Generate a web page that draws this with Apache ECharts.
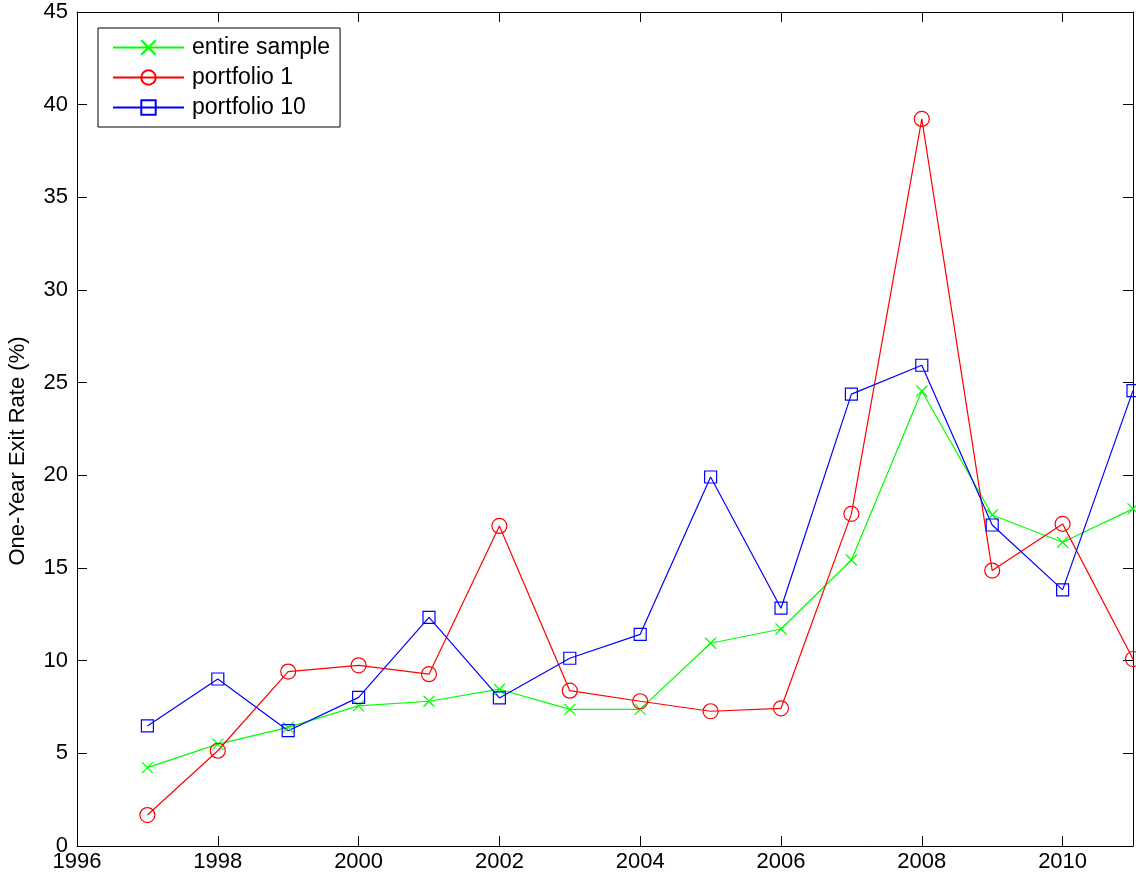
<!DOCTYPE html>
<html>
<head>
<meta charset="utf-8">
<script src="https://cdn.jsdelivr.net/npm/echarts@6/dist/echarts.min.js"></script>
<style>
html,body{margin:0;padding:0;background:#fff;}
#main{width:1136px;height:882px;}
</style>
</head>
<body>
<div id="main"></div>
<script>
const years = [1997,1998,1999,2000,2001,2002,2003,2004,2005,2006,2007,2008,2009,2010,2011];
const entireSample = [4.23,5.50,6.40,7.56,7.81,8.46,7.37,7.37,10.94,11.71,15.43,24.55,17.86,16.39,18.19];
const portfolio1 = [1.67,5.14,9.41,9.75,9.27,17.27,8.38,7.81,7.27,7.43,17.92,39.23,14.86,17.38,10.09];
const portfolio10 = [6.48,9.01,6.22,8.02,12.34,7.99,10.13,11.42,19.91,12.83,24.38,25.94,17.32,13.82,24.57];
const xTicks = [1996,1998,2000,2002,2004,2006,2008,2010];
const yTicks = [0,5,10,15,20,25,30,35,40,45];
const seriesNames = ['entire sample','portfolio 1','portfolio 10'];
const yLabel = 'One-Year Exit Rate (%)';

const FONT = "'Liberation Sans', Arial, Helvetica, sans-serif";
const pairs = arr => years.map((y,i)=>[y,arr[i]]);

const chart = echarts.init(document.getElementById('main'), null, {renderer:'canvas'});

function baseAxis(extra){
  return Object.assign({
    axisLine:{show:true,onZero:false,lineStyle:{color:'#000',width:1}},
    axisTick:{show:true,inside:true,length:10,lineStyle:{color:'#000',width:1}},
    splitLine:{show:false}
  }, extra);
}
const xFmt = v => xTicks.includes(v) ? String(v) : '';
const yFmt = v => yTicks.includes(v) ? String(v) : '';

const crossPath = 'path://M0,0L10,10M10,0L0,10';

chart.setOption({
  animation:false,
  backgroundColor:'#fff',
  grid:{left:77,right:2,top:12,bottom:36,containLabel:false},
  xAxis:[
    baseAxis({type:'value',position:'bottom',min:1996,max:2011,interval:2,
      axisLabel:{show:true,formatter:xFmt,color:'#000',fontSize:22,fontFamily:FONT,margin:5}}),
    baseAxis({type:'value',position:'top',min:1996,max:2011,interval:2,axisLabel:{show:false}})
  ],
  yAxis:[
    baseAxis({type:'value',position:'left',min:0,max:45,interval:5,
      axisLabel:{show:true,formatter:yFmt,color:'#000',fontSize:22,fontFamily:FONT,margin:9}}),
    baseAxis({type:'value',position:'right',min:0,max:45,interval:5,axisLabel:{show:false}})
  ],
  legend:{
    show:true,orient:'vertical',left:98,top:28,
    data:seriesNames,
    itemWidth:71,itemHeight:18,itemGap:7,
    padding:[8,10,8,14],
    borderColor:'#000',borderWidth:1,borderRadius:0,backgroundColor:'#fff',
    textStyle:{color:'#000',fontSize:23,fontFamily:FONT,padding:[0,0,0,3],lineHeight:22}
  },
  graphic:[{
    type:'text',x:18,y:451,rotation:Math.PI/2,
    style:{text:yLabel,fill:'#000',font:'22px '+FONT,textAlign:'center',textVerticalAlign:'middle'}
  }],
  series:[
    {name:seriesNames[0],type:'line',data:pairs(entireSample),
     symbol:crossPath,symbolSize:11,showAllSymbol:true,
     lineStyle:{color:'#00ff00',width:1.2},
     itemStyle:{color:'rgba(0,0,0,0)',borderColor:'#00ff00',borderWidth:1.2}},
    {name:seriesNames[1],type:'line',data:pairs(portfolio1),
     symbol:'circle',symbolSize:15,showAllSymbol:true,
     lineStyle:{color:'#ff0000',width:1.2},
     itemStyle:{color:'rgba(0,0,0,0)',borderColor:'#ff0000',borderWidth:1.2}},
    {name:seriesNames[2],type:'line',data:pairs(portfolio10),
     symbol:'rect',symbolSize:12,showAllSymbol:true,
     lineStyle:{color:'#0000ff',width:1.2},
     itemStyle:{color:'rgba(0,0,0,0)',borderColor:'#0000ff',borderWidth:1.2}}
  ]
});
</script>
</body>
</html>
